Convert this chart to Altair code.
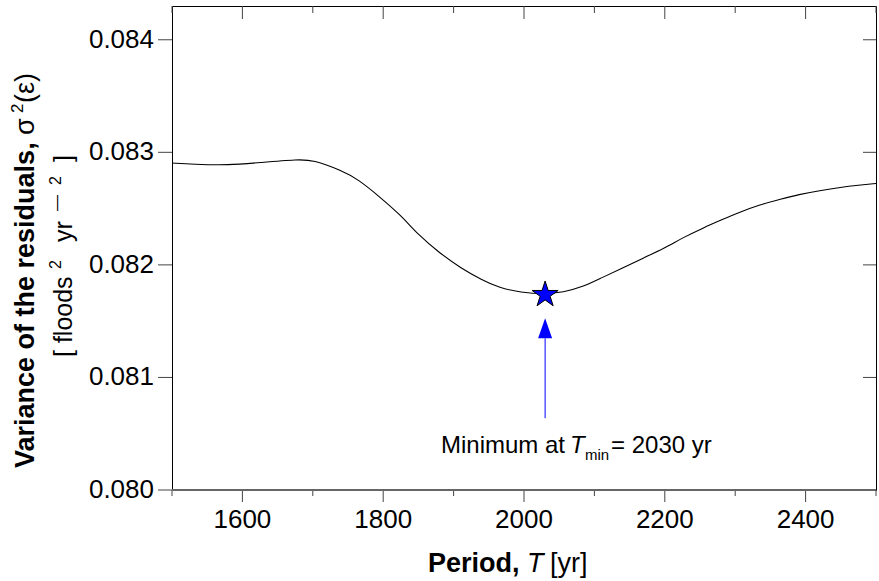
import altair as alt
import pandas as pd

# ---- data ----
PERIOD = [1500, 1530, 1580, 1625, 1680, 1700, 1740, 1765, 1795, 1825, 1850, 1880,
          1910, 1940, 1965, 1995, 2030, 2055, 2085, 2110, 2140, 2170, 2200, 2225,
          2255, 2280, 2305, 2335, 2365, 2390, 2420, 2450, 2475, 2500]
VARIANCE = [0.082905, 0.082894, 0.082885, 0.082909, 0.082938, 0.082932, 0.082841,
            0.082758, 0.082604, 0.082442, 0.082265, 0.082106, 0.081973, 0.081867,
            0.081796, 0.081755, 0.081741, 0.081755, 0.081808, 0.081885, 0.081973,
            0.082062, 0.082150, 0.082240, 0.082330, 0.082398, 0.082465, 0.082535,
            0.082585, 0.082625, 0.082660, 0.082690, 0.082708, 0.082723]
X_TICKS_MAJOR = [1600, 1800, 2000, 2200, 2400]
X_TICK_LABELS = ["1600", "1800", "2000", "2200", "2400"]
X_TICKS_MINOR = [1500, 1700, 1900, 2100, 2300, 2500]
Y_TICKS = [0.080, 0.081, 0.082, 0.083, 0.084]
Y_TICK_LABELS = ["0.080", "0.081", "0.082", "0.083", "0.084"]
X_DOMAIN = [1500, 2500]
Y_DOMAIN = [0.080, 0.0843]
T_MIN = 2030
V_MIN = 0.081735
ARROW_HEAD = 0.081437
ARROW_TOP = 0.081348
ARROW_BOTTOM = 0.080638

FONT = "Liberation Sans"
W, H = 704, 484
TICK_COLOR = "#444"
STAR = ("M0,-1L0.2245,-0.309L0.951,-0.309L0.3633,0.118L0.588,0.809L0,0.382"
        "L-0.588,0.809L-0.3633,0.118L-0.951,-0.309L-0.2245,-0.309Z")
TRI = "M0,-1L0.7,1L-0.7,1Z"

xs = alt.Scale(domain=X_DOMAIN, nice=False, zero=False)
ys = alt.Scale(domain=Y_DOMAIN, nice=False, zero=False)


def X(field="period"):
    return alt.X(f"{field}:Q", scale=xs, axis=None)


def Y(field="variance"):
    return alt.Y(f"{field}:Q", scale=ys, axis=None)


df = pd.DataFrame({"period": PERIOD, "variance": VARIANCE})
xmaj = pd.DataFrame({"period": X_TICKS_MAJOR, "lab": X_TICK_LABELS})
xmin = pd.DataFrame({"period": X_TICKS_MINOR})
ytk = pd.DataFrame({"variance": Y_TICKS, "lab": Y_TICK_LABELS})

line = alt.Chart(df).mark_line(color="black", strokeWidth=1.1, interpolate="basis").encode(
    x=X(), y=Y())

# axes drawn through the scales
bottom_domain = alt.Chart(pd.DataFrame({"variance": [Y_DOMAIN[0]]})).mark_rule(
    color="#666", strokeWidth=2).encode(y=Y(), x=alt.value(0), x2=alt.value(W))
bottom_major = alt.Chart(xmaj).mark_rule(color=TICK_COLOR).encode(
    x=X(), y=alt.value(H), y2=alt.value(H + 12))
bottom_minor = alt.Chart(xmin).mark_rule(color=TICK_COLOR).encode(
    x=X(), y=alt.value(H), y2=alt.value(H + 6))
bottom_labels = alt.Chart(xmaj).mark_text(
    font=FONT, fontSize=26, color="black", align="center", baseline="alphabetic").encode(
    x=X(), y=alt.value(H + 38), text="lab:N")
top_major = alt.Chart(xmaj).mark_rule(color=TICK_COLOR).encode(
    x=X(), y=alt.value(0), y2=alt.value(13))
top_minor = alt.Chart(xmin).mark_rule(color=TICK_COLOR).encode(
    x=X(), y=alt.value(0), y2=alt.value(7))
left_ticks = alt.Chart(ytk).mark_rule(color=TICK_COLOR).encode(
    y=Y(), x=alt.value(-14), x2=alt.value(0))
left_labels = alt.Chart(ytk).mark_text(
    font=FONT, fontSize=26, color="black", align="right", baseline="middle").encode(
    y=Y(), x=alt.value(-18), text="lab:N")
right_ticks = alt.Chart(ytk).mark_rule(color=TICK_COLOR).encode(
    y=Y(), x=alt.value(W - 13), x2=alt.value(W))

arrow_df = pd.DataFrame({"period": [T_MIN], "variance": [ARROW_TOP], "v2": [ARROW_BOTTOM]})
shaft = alt.Chart(arrow_df).mark_rule(color="#0000ff", strokeWidth=1).encode(
    x=X(), y=Y(), y2="v2:Q")
head = alt.Chart(pd.DataFrame({"period": [T_MIN], "variance": [ARROW_HEAD]})).mark_point(
    shape=TRI, filled=True, color="#0000ff", size=400, opacity=1).encode(x=X(), y=Y())
star = alt.Chart(pd.DataFrame({"period": [T_MIN], "variance": [V_MIN]})).mark_point(
    shape=STAR, filled=True, fill="#0000ff", stroke="black", strokeWidth=1,
    size=750, opacity=1).encode(x=X(), y=Y())


def txt(s, x, y, size, weight="normal", style="normal", align="left", angle=0,
        baseline="alphabetic"):
    return alt.Chart(pd.DataFrame({"s": [s]})).mark_text(
        align=align, baseline=baseline, angle=angle, fontSize=size,
        fontWeight=weight, fontStyle=style, font=FONT, color="black").encode(
        x=alt.value(x), y=alt.value(y), text="s:N")


L = -172  # left edge of the canvas relative to the plot area
T0 = -6   # top edge of the canvas relative to the plot area
texts = [
    # y title, line 1
    txt("Variance of the residuals,", L + 34, T0 + 468, 27, weight="bold", angle=270),
    txt("σ", L + 34, T0 + 135, 27, angle=270),
    txt("2", L + 23, T0 + 113, 17, angle=270),
    txt("(ε)", L + 34, T0 + 73, 27, align="right", angle=270),
    # y title, line 2
    txt("[ floods", L + 72, T0 + 357, 25, angle=270),
    txt("2", L + 61, T0 + 269, 16, angle=270),
    txt("yr", L + 72, T0 + 242, 25, angle=270),
    txt("—", L + 62, T0 + 211, 16, angle=270),
    txt("2", L + 61, T0 + 185, 16, angle=270),
    txt("]", L + 72, T0 + 155, 25, align="right", angle=270),
    # x title
    txt("Period,", L + 428, T0 + 572, 27, weight="bold"),
    txt("T", L + 527, T0 + 572, 27, style="italic"),
    txt("[yr]", L + 550, T0 + 572, 27),
    # annotation
    txt("Minimum at", L + 441, T0 + 453, 24),
    txt("T", L + 570, T0 + 453, 24, style="italic"),
    txt("min", L + 585, T0 + 460, 15),
    txt("= 2030 yr", L + 611, T0 + 453, 24),
]

chart = alt.layer(
    line, bottom_major, bottom_minor, bottom_labels, top_major, top_minor,
    left_ticks, left_labels, right_ticks, shaft, head, star, bottom_domain, *texts
).properties(
    width=W, height=H,
    padding={"left": 172, "top": 6, "right": 3, "bottom": 91},
    autosize=alt.AutoSizeParams(type="none"),
).configure_view(stroke="black", strokeWidth=1)

chart.save("out.html", embed_options={"renderer": "svg", "actions": False})
